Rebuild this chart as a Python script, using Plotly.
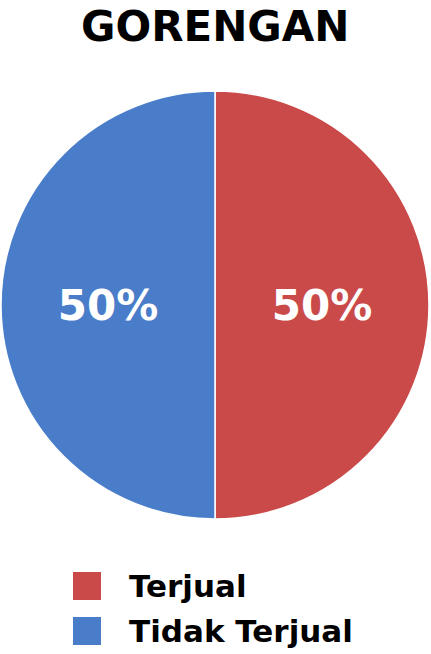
import plotly.graph_objects as go

title_text = "GORENGAN"
labels = ["Terjual", "Tidak Terjual"]
values = [50, 50]
colors = ["#CA4A4A", "#4A7DC9"]

W, H = 431, 654
FONT = "DejaVu Sans"

fig = go.Figure()
fig.add_trace(go.Pie(
    labels=labels,
    values=values,
    sort=False,
    direction="clockwise",
    rotation=0,
    marker=dict(colors=colors, line=dict(color="white", width=1.5)),
    texttemplate="%{percent:.0%}",
    textposition="inside",
    insidetextorientation="horizontal",
    textfont=dict(family=FONT, size=42, color="white", weight="bold"),
    showlegend=False,
    hoverinfo="skip",
    domain=dict(x=[1 / W, 429 / W], y=[(H - 519) / H, (H - 91) / H]),
))

# Manual legend with large square swatches
for i, (lab, col) in enumerate(zip(labels, colors)):
    yc = 586 + i * 45
    fig.add_shape(type="rect", xref="paper", yref="paper",
                  x0=73 / W, x1=101 / W, y0=(H - (yc + 14)) / H, y1=(H - (yc - 14)) / H,
                  fillcolor=col, line=dict(width=0))
    fig.add_annotation(x=127 / W, y=(H - yc) / H, xref="paper", yref="paper",
                       text=lab, showarrow=False, xanchor="left", yanchor="middle",
                       font=dict(family=FONT, size=31, color="black", weight="bold"))

fig.add_annotation(x=0.5, y=(H - 26) / H, xref="paper", yref="paper",
                   text=title_text, showarrow=False, xanchor="center", yanchor="middle",
                   font=dict(family=FONT, size=42, color="black", weight="bold"))

fig.update_layout(
    width=W, height=H,
    margin=dict(l=0, r=0, t=0, b=0),
    paper_bgcolor="white",
    plot_bgcolor="white",
)

fig.write_html("out.html", config={"displayModeBar": False})
